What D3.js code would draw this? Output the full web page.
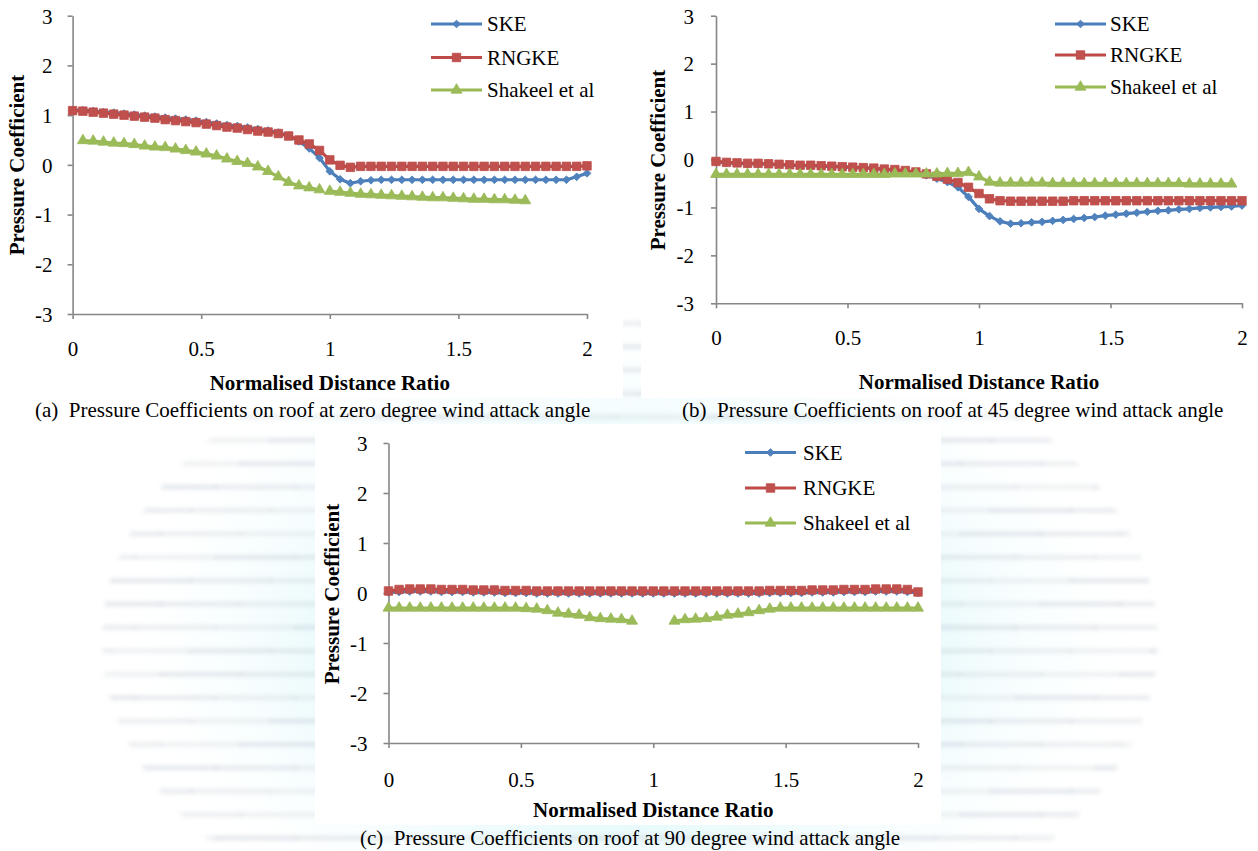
<!DOCTYPE html>
<html>
<head>
<meta charset="utf-8">
<title>Pressure Coefficients on roof</title>
<script src="https://cdn.jsdelivr.net/npm/d3@7"></script>
<style>
  html, body { margin: 0; padding: 0; background: #ffffff; }
  svg text { font-family: "Liberation Serif", "Times New Roman", serif; fill: #000; }
</style>
</head>
<body>
<svg id="fig" width="1258" height="851"></svg>
<script>
// ---- data -------------------------------------------------------------
const xTicks = [0, 0.5, 1, 1.5, 2];
const yTicks = [-3, -2, -1, 0, 1, 2, 3];
const seriesNames = ["SKE", "RNGKE", "Shakeel et al"];
const captions = [
  "(a)  Pressure Coefficients on roof at zero degree wind attack angle",
  "(b)  Pressure Coefficients on roof at 45 degree wind attack angle",
  "(c)  Pressure Coefficients on roof at 90 degree wind attack angle"
];
const xTitle = "Normalised Distance Ratio";
const yTitle = "Pressure Coefficient";

// normalised distance along the roof (shared by the CFD series)
const distance = [0.00,0.04,0.08,0.12,0.16,0.20,0.24,0.28,0.32,0.36,0.40,0.44,0.48,0.52,0.56,0.60,0.64,0.68,0.72,0.76,
  0.80,0.84,0.88,0.92,0.96,1.00,1.04,1.08,1.12,1.16,1.20,1.24,1.28,1.32,1.36,1.40,1.44,1.48,1.52,1.56,1.60,1.64,1.68,1.72,
  1.76,1.80,1.84,1.88,1.92,1.96,2.00];

// (a) zero degree
const skeZero = [1.10,1.10,1.08,1.06,1.05,1.03,1.01,0.99,0.97,0.95,0.93,0.91,0.89,0.86,0.83,0.80,0.78,0.75,0.72,0.69,
  0.65,0.59,0.47,0.33,0.14,-0.13,-0.29,-0.37,-0.33,-0.31,-0.30,-0.30,-0.30,-0.30,-0.30,-0.30,-0.30,-0.30,-0.30,-0.30,
  -0.30,-0.30,-0.30,-0.30,-0.30,-0.30,-0.30,-0.30,-0.30,-0.24,-0.17];
const rngkeZero = [1.09,1.08,1.06,1.04,1.02,1.00,0.98,0.96,0.94,0.91,0.89,0.87,0.85,0.82,0.79,0.76,0.74,0.71,0.68,0.66,
  0.63,0.58,0.50,0.42,0.29,0.10,-0.01,-0.05,-0.03,-0.03,-0.03,-0.03,-0.03,-0.03,-0.03,-0.03,-0.03,-0.03,-0.03,-0.03,
  -0.03,-0.03,-0.03,-0.03,-0.03,-0.03,-0.03,-0.03,-0.03,-0.03,-0.02];
const shakeelZeroX = [0.04,0.08,0.12,0.16,0.20,0.24,0.28,0.32,0.36,0.40,0.44,0.48,0.52,0.56,0.60,0.64,0.68,0.72,0.76,0.80,
  0.84,0.88,0.92,0.96,null,1.00,1.04,1.08,1.12,1.16,1.20,1.24,1.28,1.32,1.36,1.40,1.44,1.48,1.52,1.56,1.60,1.64,1.68,1.72,1.76];
const shakeelZero = [0.49,0.48,0.46,0.44,0.43,0.41,0.38,0.36,0.35,0.32,0.29,0.26,0.22,0.18,0.12,0.07,0.03,-0.04,-0.13,-0.24,
  -0.35,-0.42,-0.46,-0.50,null,-0.53,-0.55,-0.57,-0.59,-0.60,-0.61,-0.62,-0.63,-0.64,-0.65,-0.66,-0.66,-0.67,-0.68,-0.69,
  -0.69,-0.70,-0.70,-0.71,-0.72];

// (b) 45 degree
const ske45 = [-0.05,-0.07,-0.08,-0.09,-0.09,-0.10,-0.11,-0.12,-0.13,-0.13,-0.14,-0.15,-0.16,-0.17,-0.18,-0.19,-0.21,-0.22,-0.24,-0.27,
  -0.33,-0.40,-0.47,-0.58,-0.78,-1.03,-1.18,-1.29,-1.34,-1.33,-1.31,-1.30,-1.28,-1.26,-1.24,-1.22,-1.20,-1.17,-1.15,-1.13,
  -1.11,-1.09,-1.07,-1.06,-1.04,-1.03,-1.01,-1.00,-0.99,-0.98,-0.96];
const rngke45 = [-0.04,-0.06,-0.07,-0.08,-0.08,-0.09,-0.10,-0.11,-0.12,-0.12,-0.13,-0.14,-0.15,-0.16,-0.17,-0.18,-0.20,-0.21,-0.23,-0.26,
  -0.30,-0.35,-0.41,-0.48,-0.58,-0.71,-0.82,-0.86,-0.87,-0.87,-0.87,-0.87,-0.87,-0.87,-0.86,-0.86,-0.86,-0.86,-0.86,-0.86,
  -0.86,-0.86,-0.86,-0.86,-0.86,-0.86,-0.86,-0.86,-0.86,-0.86,-0.86];
const shakeel45 = [-0.31,-0.31,-0.31,-0.31,-0.31,-0.31,-0.31,-0.31,-0.31,-0.31,-0.31,-0.31,-0.31,-0.31,-0.31,-0.31,-0.31,-0.30,-0.30,-0.30,
  -0.30,-0.30,-0.29,-0.29,-0.27,-0.36,-0.47,-0.49,-0.49,-0.49,-0.49,-0.49,-0.50,-0.50,-0.50,-0.50,-0.50,-0.50,-0.50,-0.50,
  -0.50,-0.50,-0.50,-0.50,-0.50,-0.51,-0.51,-0.51,-0.51,-0.51,null];

// (c) 90 degree
const ske90 = [0.01,0.02,0.03,0.03,0.03,0.02,0.02,0.02,0.01,0.01,0.01,0.00,0.00,0.00,-0.01,-0.01,-0.01,-0.01,-0.01,-0.01,
  -0.01,-0.01,-0.01,-0.01,-0.01,-0.01,-0.01,-0.01,-0.01,-0.01,-0.01,-0.01,-0.01,-0.01,-0.01,-0.01,0.00,0.00,0.00,0.00,
  0.01,0.01,0.01,0.02,0.02,0.02,0.03,0.03,0.03,0.02,0.00];
const rngke90 = [0.04,0.07,0.08,0.08,0.08,0.07,0.07,0.07,0.06,0.06,0.06,0.05,0.05,0.05,0.04,0.04,0.04,0.04,0.04,0.04,
  0.04,0.04,0.04,0.04,0.04,0.04,0.04,0.04,0.04,0.04,0.04,0.04,0.04,0.04,0.04,0.04,0.05,0.05,0.05,0.05,
  0.06,0.06,0.06,0.07,0.07,0.07,0.08,0.08,0.08,0.07,0.02];
const shakeel90 = [-0.30,-0.30,-0.30,-0.30,-0.30,-0.30,-0.30,-0.30,-0.30,-0.30,-0.30,-0.30,-0.30,-0.31,-0.32,-0.35,-0.40,-0.42,-0.44,-0.49,
  -0.51,-0.52,-0.53,-0.56,null,null,null,-0.56,-0.53,-0.52,-0.51,-0.48,-0.44,-0.42,-0.39,-0.35,-0.32,-0.30,-0.30,-0.30,
  -0.30,-0.30,-0.30,-0.30,-0.30,-0.30,-0.30,-0.30,-0.30,-0.30,-0.30];

// ---- styling ----------------------------------------------------------
const FONT = 21;
const AXIS_COLOR = "#868686";
const seriesStyle = [
  { line: "#4a7ebb", fill: "#4f81bd", symbol: "diamond" },
  { line: "#be4b48", fill: "#c0504d", symbol: "square" },
  { line: "#98b954", fill: "#9bbb59", symbol: "triangle" }
];

const panels = [
  { plot: { left: 72.6, right: 587, top: 15.7, bottom: 314 },
    tickLabelGap: 20, xLabelY: 349, xTitleY: 383, yTitleX: 16.5, yTitleY: 165,
    legend: { x0: 431, x1: 482, tx: 487, ys: [24, 57.5, 90] },
    caption: { x: 35, y: 410, text: captions[0] },
    series: [
      { x: distance, y: skeZero },
      { x: distance, y: rngkeZero },
      { x: shakeelZeroX, y: shakeelZero }
    ] },
  { plot: { left: 716, right: 1242, top: 15.7, bottom: 303.3 },
    tickLabelGap: 22, xLabelY: 338, xTitleY: 382, yTitleX: 658, yTitleY: 160,
    legend: { x0: 1055, x1: 1106, tx: 1110, ys: [24, 55, 87] },
    caption: { x: 682, y: 410, text: captions[1] },
    series: [
      { x: distance, y: ske45 },
      { x: distance, y: rngke45 },
      { x: distance, y: shakeel45 }
    ] },
  { plot: { left: 388.5, right: 918, top: 443, bottom: 743 },
    tickLabelGap: 21, xLabelY: 780, xTitleY: 810, yTitleX: 332, yTitleY: 594,
    legend: { x0: 745, x1: 796, tx: 803, ys: [452.5, 488, 523] },
    caption: { x: 360, y: 838, text: captions[2] },
    series: [
      { x: distance, y: ske90 },
      { x: distance, y: rngke90 },
      { x: distance, y: shakeel90 }
    ] }
];

// ---- canvas -------------------------------------------------------------
const svg = d3.select("#fig");
const defs = svg.append("defs");

const glow = defs.append("radialGradient").attr("id", "wmGlow")
  .attr("gradientUnits", "userSpaceOnUse")
  .attr("cx", 630).attr("cy", 640).attr("r", 530)
  .attr("gradientTransform", "translate(630,640) scale(1,0.63) translate(-630,-640)");
glow.append("stop").attr("offset", "0%").attr("stop-color", "#c9f4fa").attr("stop-opacity", 0.9);
glow.append("stop").attr("offset", "55%").attr("stop-color", "#d6f6fa").attr("stop-opacity", 0.55);
glow.append("stop").attr("offset", "100%").attr("stop-color", "#ffffff").attr("stop-opacity", 0);

defs.append("clipPath").attr("id", "wmDisc")
  .append("ellipse").attr("cx", 630).attr("cy", 640).attr("rx", 528).attr("ry", 332);

defs.append("filter").attr("id", "wmSoft")
  .attr("x", "-5%").attr("y", "-5%").attr("width", "110%").attr("height", "110%")
  .append("feGaussianBlur").attr("stdDeviation", 2.2);

// faint striped watermark behind the figure
const wmOuter = svg.append("g").attr("filter", "url(#wmSoft)");
const wm = wmOuter.append("g").attr("clip-path", "url(#wmDisc)");
wm.append("rect").attr("x", 0).attr("y", 280).attr("width", 1258).attr("height", 571)
  .attr("fill", "url(#wmGlow)");
const stripeRows = d3.range(0, 23).map(k => 323 + 23.4 * k);
const stripeSegments = d3.range(0, 16);
stripeRows.forEach((sy, r) => {
  wm.selectAll(null).data(stripeSegments).join("rect")
    .attr("x", k => k * 80 - (r % 3) * 25)
    .attr("width", 82)
    .attr("y", sy - 2).attr("height", 4.5)
    .attr("fill", "#aeb9c6")
    .attr("opacity", k => 0.22 + 0.12 * ((k * 7 + r * 3) % 4) / 3);
});

// white chart areas
svg.append("rect").attr("x", 0).attr("y", 0).attr("width", 623).attr("height", 398).attr("fill", "#fff");
svg.append("rect").attr("x", 641).attr("y", 0).attr("width", 617).attr("height", 398).attr("fill", "#fff");
svg.append("rect").attr("x", 315).attr("y", 424).attr("width", 626).attr("height", 401).attr("fill", "#fff");

// ---- markers ------------------------------------------------------------
function markerPath(kind) {
  if (kind === "diamond") return d3.symbol(d3.symbolSquare, 30)();
  if (kind === "square") return d3.symbol(d3.symbolSquare, 72)();
  return d3.symbol(d3.symbolTriangle, 52)();
}
function markerTransform(kind, px, py) {
  return kind === "diamond" ? `translate(${px},${py}) rotate(45)` : `translate(${px},${py})`;
}

// ---- panels -------------------------------------------------------------
function drawPanel(cfg) {
  const g = svg.append("g");
  const p = cfg.plot;
  const x = d3.scaleLinear().domain([0, 2]).range([p.left, p.right]);
  const y = d3.scaleLinear().domain([-3, 3]).range([p.bottom, p.top]);

  // axes
  const yAxis = g.append("g").attr("transform", `translate(${p.left},0)`)
    .call(d3.axisLeft(y).tickValues(yTicks).tickSize(5).tickSizeOuter(0)
      .tickPadding(cfg.tickLabelGap - 5).tickFormat(d => String(d)));
  const xAxis = g.append("g").attr("transform", `translate(0,${p.bottom})`)
    .call(d3.axisBottom(x).tickValues(xTicks).tickSize(5).tickSizeOuter(0).tickFormat(d => String(d)));

  [xAxis, yAxis].forEach(a => {
    a.attr("font-family", null);
    a.select(".domain").attr("stroke", AXIS_COLOR).attr("stroke-width", 1.6);
    a.selectAll(".tick line").attr("stroke", AXIS_COLOR).attr("stroke-width", 1.6);
    a.selectAll("text").attr("font-size", FONT).attr("fill", "#000");
  });
  yAxis.selectAll("text").attr("dy", "0.35em");
  xAxis.selectAll("text").attr("y", cfg.xLabelY - p.bottom).attr("dy", "0.35em");

  // titles
  g.append("text").attr("x", (p.left + p.right) / 2).attr("y", cfg.xTitleY)
    .attr("text-anchor", "middle").attr("dominant-baseline", "central")
    .attr("font-size", FONT).attr("font-weight", "bold").text(xTitle);
  g.append("text")
    .attr("transform", `translate(${cfg.yTitleX},${cfg.yTitleY}) rotate(-90)`)
    .attr("text-anchor", "middle").attr("dominant-baseline", "central")
    .attr("font-size", FONT).attr("font-weight", "bold").text(yTitle);

  // series: SKE, RNGKE, Shakeel et al (drawn in that order)
  cfg.series.forEach((s, i) => {
    const st = seriesStyle[i];
    const pts = s.x.map((xv, k) => ({ x: xv, y: s.y[k] }));
    const line = d3.line()
      .defined(d => d.x != null && d.y != null)
      .x(d => x(d.x)).y(d => y(d.y));
    g.append("path").datum(pts)
      .attr("fill", "none").attr("stroke", st.line).attr("stroke-width", 3.2)
      .attr("stroke-linejoin", "round").attr("d", line);
    g.selectAll(null).data(pts.filter(d => d.x != null && d.y != null)).join("path")
      .attr("d", markerPath(st.symbol))
      .attr("transform", d => markerTransform(st.symbol, x(d.x), y(d.y)))
      .attr("fill", st.fill).attr("stroke", st.line).attr("stroke-width", 0.8);
  });

  // legend
  const L = cfg.legend;
  seriesNames.forEach((name, i) => {
    const st = seriesStyle[i];
    const ly = L.ys[i];
    g.append("line").attr("x1", L.x0).attr("x2", L.x1).attr("y1", ly).attr("y2", ly)
      .attr("stroke", st.line).attr("stroke-width", 3.2);
    g.append("path").attr("d", markerPath(st.symbol))
      .attr("transform", markerTransform(st.symbol, (L.x0 + L.x1) / 2, ly))
      .attr("fill", st.fill).attr("stroke", st.line).attr("stroke-width", 0.8);
    g.append("text").attr("x", L.tx).attr("y", ly).attr("dominant-baseline", "central")
      .attr("font-size", FONT).text(name);
  });

  // caption
  g.append("text").attr("x", cfg.caption.x).attr("y", cfg.caption.y)
    .attr("dominant-baseline", "central").attr("font-size", FONT)
    .style("white-space", "pre").text(cfg.caption.text);
}

panels.forEach(drawPanel);
</script>
</body>
</html>
